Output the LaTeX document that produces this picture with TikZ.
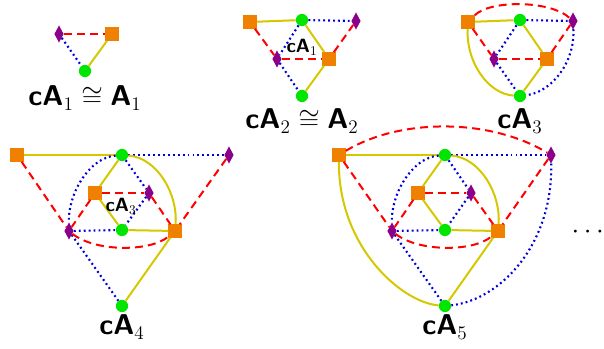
\documentclass[tikz,border=0pt]{standalone}
\usepackage{amsmath,amssymb}
\usepackage{tikz}
\usetikzlibrary{shapes.geometric}
\definecolor{sqOrange}{HTML}{F08000}
\definecolor{dmPurple}{HTML}{8B008B}
\definecolor{grGreen}{HTML}{00E600}
\definecolor{edYellow}{HTML}{D4C800}
\definecolor{edRed}{HTML}{FF0000}
\definecolor{edBlue}{HTML}{0000DD}
\newcommand{\cAlab}[1]{\textsf{\textbf{cA}}_{#1}}
\newcommand{\Alab}[1]{\textsf{\textbf{A}}_{#1}}

\begin{document}
\begin{tikzpicture}[x=0.75pt,y=-0.75pt,
  sq/.style={rectangle, fill=sqOrange, minimum size=9.8pt, inner sep=0pt},
  dm/.style={diamond, fill=dmPurple, minimum width=7pt, minimum height=13pt, inner sep=0pt},
  gr/.style={circle, fill=grGreen, minimum size=9.2pt, inner sep=0pt},
  ye/.style={edYellow, line width=1.5pt},
  rd/.style={edRed, line width=1.5pt, dash pattern=on 6pt off 3.8pt},
  bl/.style={edBlue, line width=1.6pt, dash pattern=on 1.4pt off 2.3pt},
  lab/.style={font=\fontsize{21.5}{24}\selectfont, inner sep=0pt},
  sub/.style={font=\Large, inner sep=0pt}]
  \useasboundingbox (0,0) rectangle (604,349);

  % cA1
  \node[dm] (a1d) at (59,34) {};
  \node[sq] (a1s) at (112,34) {};
  \node[gr] (a1g) at (85,71) {};
  \draw[rd] (a1d) -- (a1s);
  \draw[ye] (a1s) -- (a1g);
  \draw[bl] (a1d) -- (a1g);
  \node[lab] (a1l) at (85,98) {$\cAlab{1} \cong \Alab{1}$};

  % cA2
  \node[sq] (a2s) at (250,22) {};
  \node[gr] (a2g) at (302,20) {};
  \node[dm] (a2d) at (356,21) {};
  \node[dm] (a2m) at (277,59) {};
  \node[sq] (a2n) at (329,59) {};
  \node[gr] (a2b) at (302,96) {};
  \draw[ye] (a2s) -- (a2g);
  \draw[bl] (a2g) -- (a2d);
  \draw[rd] (a2s) -- (a2m);
  \draw[bl] (a2g) -- (a2m);
  \draw[ye] (a2g) -- (a2n);
  \draw[rd] (a2m) -- (a2n);
  \draw[rd] (a2n) -- (a2d);
  \draw[bl] (a2m) -- (a2b);
  \draw[ye] (a2n) -- (a2b);
  \node[sub] (a2i) at (302,47) {$\cAlab{1}$};
  \node[lab] (a2l) at (302,121) {$\cAlab{2} \cong \Alab{2}$};

  % cA3
  \node[sq] (a3s) at (468,22) {};
  \node[gr] (a3g) at (520,20) {};
  \node[dm] (a3d) at (573,21) {};
  \node[dm] (a3m) at (494,59) {};
  \node[sq] (a3n) at (547,59) {};
  \node[gr] (a3b) at (520,96) {};
  \draw[ye] (a3s) -- (a3g);
  \draw[bl] (a3g) -- (a3d);
  \draw[rd] (a3s) -- (a3m);
  \draw[bl] (a3g) -- (a3m);
  \draw[ye] (a3g) -- (a3n);
  \draw[rd] (a3m) -- (a3n);
  \draw[rd] (a3n) -- (a3d);
  \draw[bl] (a3m) -- (a3b);
  \draw[ye] (a3n) -- (a3b);
  \draw[rd] (a3s) .. controls (490,0) and (550,0) .. (a3d);
  \draw[ye] (a3s) .. controls (466,62) and (488,94) .. (a3b);
  \draw[bl] (a3d) .. controls (575,62) and (552,92) .. (a3b);
  \node[lab] (a3l) at (520,121) {$\cAlab{3}$};

  % cA4
  \node[sq] (a4s) at (17,155) {};
  \node[gr] (a4g) at (122,155) {};
  \node[dm] (a4d) at (229,155) {};
  \node[sq] (a4t) at (95,193) {};
  \node[dm] (a4e) at (149,193) {};
  \node[gr] (a4h) at (122,230) {};
  \node[dm] (a4m) at (69,231) {};
  \node[sq] (a4n) at (175,231) {};
  \node[gr] (a4b) at (122,306) {};
  \draw[ye] (a4s) -- (a4g);
  \draw[bl] (a4g) -- (a4d);
  \draw[rd] (a4s) -- (a4m);
  \draw[rd] (a4d) -- (a4n);
  \draw[ye] (a4g) -- (a4t);
  \draw[bl] (a4g) -- (a4e);
  \draw[rd] (a4t) -- (a4e);
  \draw[ye] (a4t) -- (a4h);
  \draw[bl] (a4e) -- (a4h);
  \draw[rd] (a4t) -- (a4m);
  \draw[rd] (a4e) -- (a4n);
  \draw[bl] (a4m) -- (a4h);
  \draw[ye] (a4h) -- (a4n);
  \draw[bl] (a4m) -- (a4b);
  \draw[ye] (a4n) -- (a4b);
  \draw[bl] (a4g) .. controls (88,158) and (68,195) .. (a4m);
  \draw[ye] (a4g) .. controls (158,158) and (178,195) .. (a4n);
  \draw[rd] (a4m) .. controls (95,252) and (150,252) .. (a4n);
  \node[sub] (a4i) at (121,206) {$\cAlab{3}$};
  \node[lab] (a4l) at (122,327) {$\cAlab{4}$};

  % cA5
  \node[sq] (a5s) at (339,155) {};
  \node[gr] (a5g) at (445,155) {};
  \node[dm] (a5d) at (551,155) {};
  \node[sq] (a5t) at (418,193) {};
  \node[dm] (a5e) at (471,193) {};
  \node[gr] (a5h) at (445,230) {};
  \node[dm] (a5m) at (392,231) {};
  \node[sq] (a5n) at (498,231) {};
  \node[gr] (a5b) at (445,306) {};
  \draw[ye] (a5s) -- (a5g);
  \draw[bl] (a5g) -- (a5d);
  \draw[rd] (a5s) -- (a5m);
  \draw[rd] (a5d) -- (a5n);
  \draw[ye] (a5g) -- (a5t);
  \draw[bl] (a5g) -- (a5e);
  \draw[rd] (a5t) -- (a5e);
  \draw[ye] (a5t) -- (a5h);
  \draw[bl] (a5e) -- (a5h);
  \draw[rd] (a5t) -- (a5m);
  \draw[rd] (a5e) -- (a5n);
  \draw[bl] (a5m) -- (a5h);
  \draw[ye] (a5h) -- (a5n);
  \draw[bl] (a5m) -- (a5b);
  \draw[ye] (a5n) -- (a5b);
  \draw[bl] (a5g) .. controls (411,158) and (391,195) .. (a5m);
  \draw[ye] (a5g) .. controls (481,158) and (501,195) .. (a5n);
  \draw[rd] (a5m) .. controls (418,252) and (473,252) .. (a5n);
  \draw[rd] (a5s) .. controls (400,118) and (490,118) .. (a5d);
  \draw[ye] (a5s) .. controls (338,245) and (400,302) .. (a5b);
  \draw[bl] (a5d) .. controls (553,245) and (500,300) .. (a5b);
  \node[lab] (a5l) at (445,327) {$\cAlab{5}$};
  \node[lab] (dots) at (590,232) {$\cdots$};
\end{tikzpicture}
\end{document}
